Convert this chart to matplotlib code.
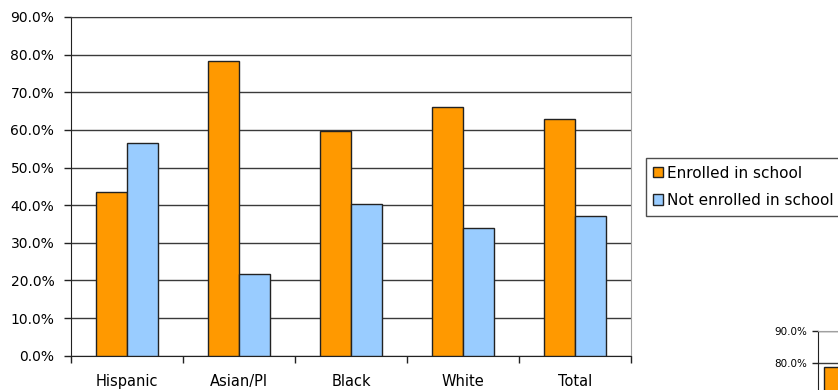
import matplotlib.pyplot as plt
import numpy as np

# values
groups = ["Hispanic", "Asian/PI", "Black", "White", "Total"]
enrolled = [43.5, 78.3, 59.8, 66.2, 62.8]
not_enrolled = [56.5, 21.7, 40.2, 33.8, 37.2]
y_ticks = [0, 10, 20, 30, 40, 50, 60, 70, 80, 90]

# little piece of a second chart peeking in at the bottom right
mini_ticks = [80, 90]
mini_value = [79.0]

orange = '#ff9900'
blue = '#99ccff'

# the original text is spaced wide, DejaVu gets closer than Arial
plt.rcParams['font.family'] = ['DejaVu Sans']

fig = plt.figure(figsize=(8.38, 3.90), dpi=100)
ax = fig.add_axes([71/838, 1 - 355.7/390, 560/838, (355.7 - 17)/390])

x = np.arange(len(groups))
w = 0.28
ax.bar(x - w/2, enrolled, w, color=orange, edgecolor='#222222', linewidth=1,
       label='Enrolled in school', zorder=3)
ax.bar(x + w/2, not_enrolled, w, color=blue, edgecolor='#222222', linewidth=1,
       label='Not enrolled in school', zorder=3)

ax.set_xlim(-0.5, len(groups) - 0.5)
ax.set_ylim(0, 90)
ax.set_yticks(y_ticks)
ax.set_yticklabels([f'{t:.1f}%' for t in y_ticks], fontsize=10)
ax.yaxis.grid(True, color='#3a3a3a', linewidth=1, zorder=0)

# category labels between tick marks
ax.set_xticks(np.arange(len(groups) + 1) - 0.5)
ax.set_xticklabels([])
ax.set_xticks(x, minor=True)
ax.set_xticklabels(groups, minor=True, fontsize=10.5)
ax.tick_params(axis='x', which='minor', length=0, pad=13)
ax.tick_params(axis='x', which='major', length=5, width=1, color='#222222')
ax.tick_params(axis='y', length=5, width=1, color='#222222', pad=7)

ax.spines['left'].set_color('#222222')
ax.spines['bottom'].set_color('#222222')
ax.spines['top'].set_color('#3a3a3a')
ax.spines['right'].set_color('#a0a0a0')

# legend runs off the right edge in the original
leg = fig.legend(loc='upper left', bbox_to_anchor=(645.5/838, 1 - 158/390),
                 fontsize=11, frameon=True, fancybox=False, borderpad=0.5,
                 handlelength=0.65, handleheight=0.65, handletextpad=0.25,
                 labelspacing=0.8, borderaxespad=0)
leg.get_frame().set_edgecolor('#222222')
leg.get_frame().set_linewidth(1)

# second chart fragment
ax2 = fig.add_axes([818/838, 1 - 624/390, 0.2, (624 - 330.7)/390])
ax2.bar([0.3], mini_value, 0.4, color=orange, edgecolor='#222222', linewidth=1, zorder=3)
ax2.set_xlim(0, 3)
ax2.set_ylim(0, 90)
ax2.set_yticks(mini_ticks)
ax2.set_yticklabels([f'{t:.1f}%' for t in mini_ticks], fontsize=7.5)
ax2.yaxis.grid(True, color='#3a3a3a', linewidth=1, zorder=0)
ax2.set_xticks([])
ax2.tick_params(axis='y', length=4, width=1, color='#222222', pad=4)
ax2.spines['top'].set_color('#a0a0a0')
ax2.spines['left'].set_color('#222222')

fig.savefig('out.png', dpi=100)
